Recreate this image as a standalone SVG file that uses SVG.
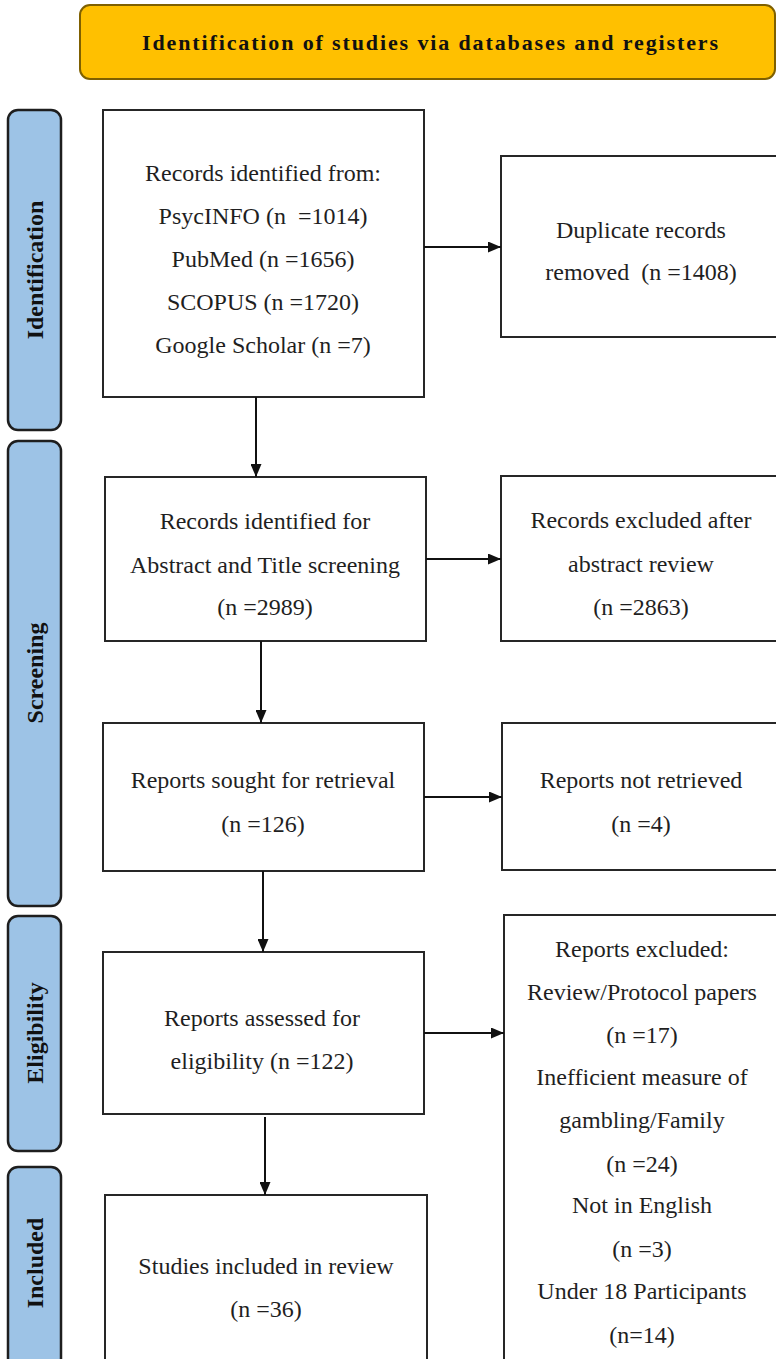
<svg xmlns="http://www.w3.org/2000/svg" width="776" height="1359" viewBox="0 0 776 1359">
<defs>
<marker id="arr" markerUnits="userSpaceOnUse" markerWidth="13" markerHeight="11" refX="13" refY="5.5" orient="auto">
<path d="M0,0 L13,5.5 L0,11 Z" fill="#111"/>
</marker>
<style>
.box{fill:#fff;stroke:#262626;stroke-width:2}
.side{fill:#9DC3E6;stroke:#1e1e1e;stroke-width:2.5}
.t{font-family:"Liberation Serif","Times New Roman",serif;font-size:24px;fill:#1f1f1f;text-anchor:middle}
.sl{font-family:"Liberation Serif","Times New Roman",serif;font-size:24px;font-weight:bold;fill:#111;text-anchor:middle}
.hd{font-family:"Liberation Serif","Times New Roman",serif;font-size:22px;font-weight:bold;fill:#111}
.c{stroke:#111;stroke-width:2;fill:none;marker-end:url(#arr)}
</style>
</defs>
<rect width="776" height="1359" fill="#fff"/>

<g id="header">
<rect x="80" y="5" width="695" height="74" rx="10" fill="#FFC000" stroke="#7F6000" stroke-width="2"/>
<text class="hd" x="142" y="50" textLength="576" lengthAdjust="spacing">Identification of studies via databases and registers</text>
</g>

<g id="phase-identification">
<rect class="side" x="8" y="110" width="53" height="320" rx="10"/>
<text class="sl" transform="translate(43,270) rotate(-90)">Identification</text>
</g>
<g id="phase-screening">
<rect class="side" x="8" y="441" width="53" height="465" rx="10"/>
<text class="sl" transform="translate(43,673) rotate(-90)">Screening</text>
</g>
<g id="phase-eligibility">
<rect class="side" x="8" y="916" width="53" height="235" rx="10"/>
<text class="sl" transform="translate(43,1033) rotate(-90)">Eligibility</text>
</g>
<g id="phase-included">
<rect class="side" x="8" y="1167" width="53" height="210" rx="10"/>
<text class="sl" transform="translate(43,1263) rotate(-90)">Included</text>
</g>

<g id="records-identified">
<rect class="box" x="103" y="110" width="321" height="287"/>
<text class="t" x="263" y="181">Records identified from:</text>
<text class="t" x="263" y="224" xml:space="preserve">PsycINFO (n  =1014)</text>
<text class="t" x="263" y="267">PubMed (n =1656)</text>
<text class="t" x="263" y="310">SCOPUS (n =1720)</text>
<text class="t" x="263" y="353">Google Scholar (n =7)</text>
</g>

<g id="duplicates-removed">
<rect class="box" x="501" y="156" width="277" height="181"/>
<text class="t" x="641" y="238">Duplicate records</text>
<text class="t" x="641" y="280" xml:space="preserve">removed  (n =1408)</text>
</g>

<g id="records-screened">
<rect class="box" x="105" y="477" width="321" height="164"/>
<text class="t" x="265" y="529">Records identified for</text>
<text class="t" x="265" y="573">Abstract and Title screening</text>
<text class="t" x="265" y="615">(n =2989)</text>
</g>

<g id="records-excluded">
<rect class="box" x="501" y="476" width="277" height="165"/>
<text class="t" x="641" y="528">Records excluded after</text>
<text class="t" x="641" y="572">abstract review</text>
<text class="t" x="641" y="615">(n =2863)</text>
</g>

<g id="reports-sought">
<rect class="box" x="103" y="723" width="321" height="148"/>
<text class="t" x="263" y="788">Reports sought for retrieval</text>
<text class="t" x="263" y="832">(n =126)</text>
</g>

<g id="reports-not-retrieved">
<rect class="box" x="502" y="723" width="276" height="147"/>
<text class="t" x="641" y="788">Reports not retrieved</text>
<text class="t" x="641" y="832">(n =4)</text>
</g>

<g id="reports-assessed">
<rect class="box" x="103" y="952" width="321" height="162"/>
<text class="t" x="262" y="1026">Reports assessed for</text>
<text class="t" x="262" y="1069">eligibility (n =122)</text>
</g>

<g id="reports-excluded">
<rect class="box" x="504" y="915" width="274" height="460"/>
<text class="t" x="642" y="957">Reports excluded:</text>
<text class="t" x="642" y="1000">Review/Protocol papers</text>
<text class="t" x="642" y="1043">(n =17)</text>
<text class="t" x="642" y="1085">Inefficient measure of</text>
<text class="t" x="642" y="1128">gambling/Family</text>
<text class="t" x="642" y="1172">(n =24)</text>
<text class="t" x="642" y="1213">Not in English</text>
<text class="t" x="642" y="1257">(n =3)</text>
<text class="t" x="642" y="1299">Under 18 Participants</text>
<text class="t" x="642" y="1343">(n=14)</text>
</g>

<g id="studies-included">
<rect class="box" x="105" y="1195" width="322" height="180"/>
<text class="t" x="266" y="1274">Studies included in review</text>
<text class="t" x="266" y="1317">(n =36)</text>
</g>

<g id="connectors">
<line class="c" x1="424" y1="247" x2="501" y2="247"/>
<line class="c" x1="256" y1="397" x2="256" y2="477"/>
<line class="c" x1="426" y1="559" x2="501" y2="559"/>
<line class="c" x1="261" y1="641" x2="261" y2="723"/>
<line class="c" x1="424" y1="797" x2="502" y2="797"/>
<line class="c" x1="263" y1="871" x2="263" y2="952"/>
<line class="c" x1="424" y1="1033" x2="504" y2="1033"/>
<line class="c" x1="265" y1="1117" x2="265" y2="1195"/>
</g>
</svg>
